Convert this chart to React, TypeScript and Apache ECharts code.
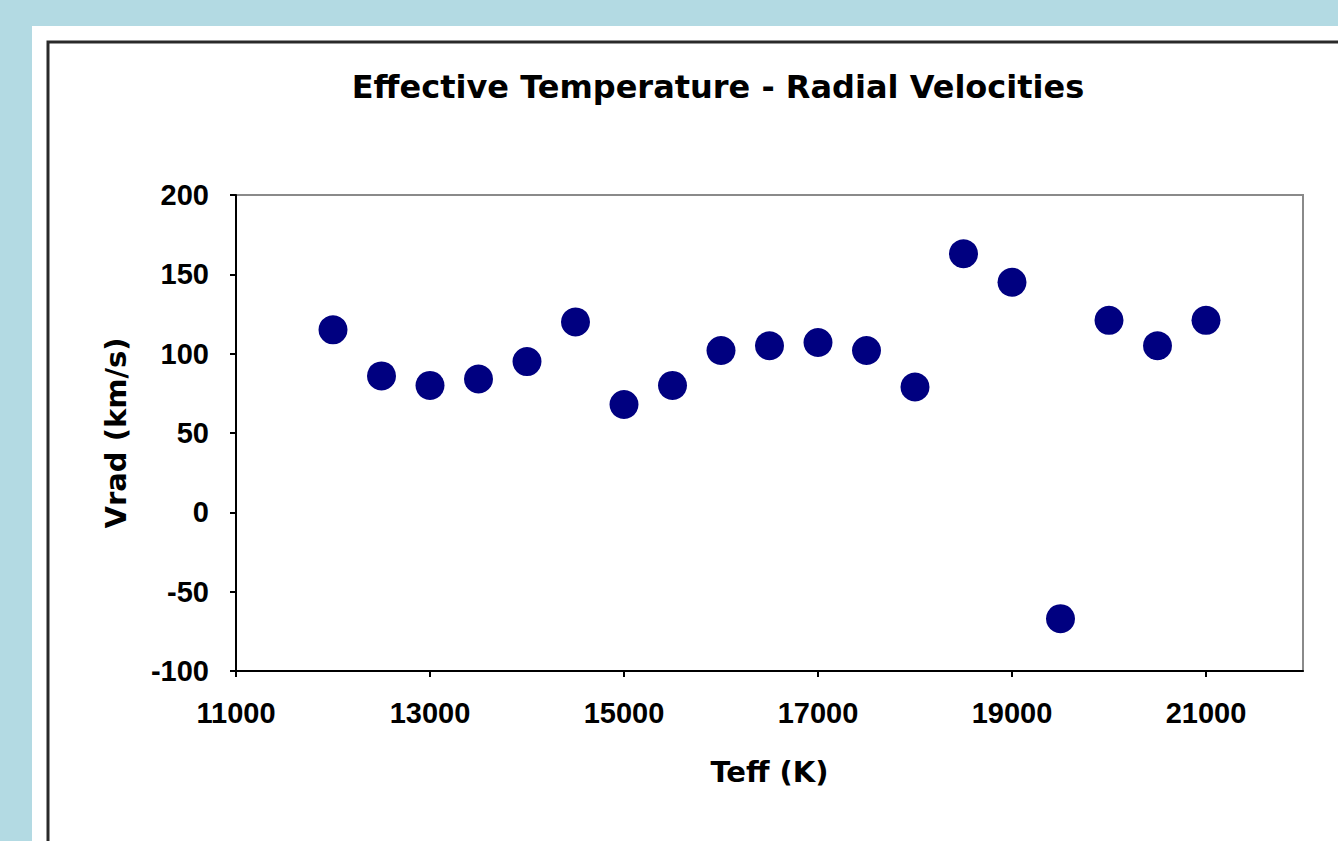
import React, { useEffect, useRef } from "react";
import * as echarts from "echarts";

const titleText = "Effective Temperature - Radial Velocities";
const xAxisName = "Teff (K)";
const yAxisName = "Vrad (km/s)";

const teff = [12000, 12500, 13000, 13500, 14000, 14500, 15000, 15500, 16000, 16500, 17000, 17500, 18000, 18500, 19000, 19500, 20000, 20500, 21000];
const vrad = [115, 86, 80, 84, 95, 120, 68, 80, 102, 105, 107, 102, 79, 163, 145, -67, 121, 105, 121];

const xTicks = [11000, 13000, 15000, 17000, 19000, 21000];
const xRange = [11000, 22000];
const yTicks = [-100, -50, 0, 50, 100, 150, 200];

export default function App() {
  const ref = useRef<HTMLDivElement>(null);
  useEffect(() => {
    if (!ref.current) return;
    const chart = echarts.init(ref.current, undefined, { renderer: "svg" });
    const tickFont = { fontFamily: "'Liberation Sans', Arial, sans-serif", fontWeight: "bold" as const, fontSize: 29, color: "#000" };
    const nameFont = { fontFamily: "'DejaVu Sans', sans-serif", fontWeight: "bold" as const, fontSize: 29, color: "#000" };
    chart.setOption({
      animation: false,
      backgroundColor: "#B3DAE3",
      graphic: [
        { type: "rect", z: -10, shape: { x: 32, y: 26, width: 1400, height: 900 }, style: { fill: "#fff" }, silent: true },
        { type: "rect", z: -9, shape: { x: 48, y: 42, width: 1400, height: 900 }, style: { fill: "none", stroke: "#2a2a2a", lineWidth: 3 }, silent: true },
      ],
      title: {
        text: titleText,
        left: 713,
        top: 66,
        textAlign: "center",
        textStyle: { fontFamily: "'DejaVu Sans', sans-serif", fontWeight: "bold", fontSize: 32, color: "#000" },
      },
      grid: {
        left: 236,
        top: 195,
        right: 35,
        bottom: 170,
        show: true,
        borderColor: "#8a8a8a",
        borderWidth: 2,
        backgroundColor: "transparent",
      },
      xAxis: {
        type: "value",
        min: xRange[0],
        max: xRange[1],
        interval: 2000,
        name: xAxisName,
        nameLocation: "middle",
        nameGap: 86,
        nameTextStyle: nameFont,
        axisLine: { show: true, onZero: false, lineStyle: { color: "#000", width: 2 } },
        axisTick: { show: true, inside: false, length: 6, lineStyle: { color: "#000", width: 2 }, customValues: xTicks },
        axisLabel: { ...tickFont, margin: 27, customValues: xTicks, formatter: (v: number) => String(v) },
        splitLine: { show: false },
      },
      yAxis: {
        type: "value",
        min: yTicks[0],
        max: yTicks[yTicks.length - 1],
        interval: 50,
        name: yAxisName,
        nameLocation: "middle",
        nameGap: 106,
        nameRotate: 90,
        nameTextStyle: nameFont,
        axisLine: { show: true, onZero: false, lineStyle: { color: "#000", width: 2 } },
        axisTick: { show: true, inside: false, length: 6, lineStyle: { color: "#000", width: 2 } },
        axisLabel: { ...tickFont, margin: 27 },
        splitLine: { show: false },
      },
      series: [
        {
          type: "scatter",
          data: teff.map((t, i) => [t, vrad[i]]),
          symbol: "circle",
          symbolSize: 29,
          itemStyle: { color: "#000080", opacity: 1 },
        },
      ],
    });
    return () => chart.dispose();
  }, []);
  return <div ref={ref} style={{ position: "fixed", left: 0, top: 0, width: 1338, height: 841 }} />;
}
